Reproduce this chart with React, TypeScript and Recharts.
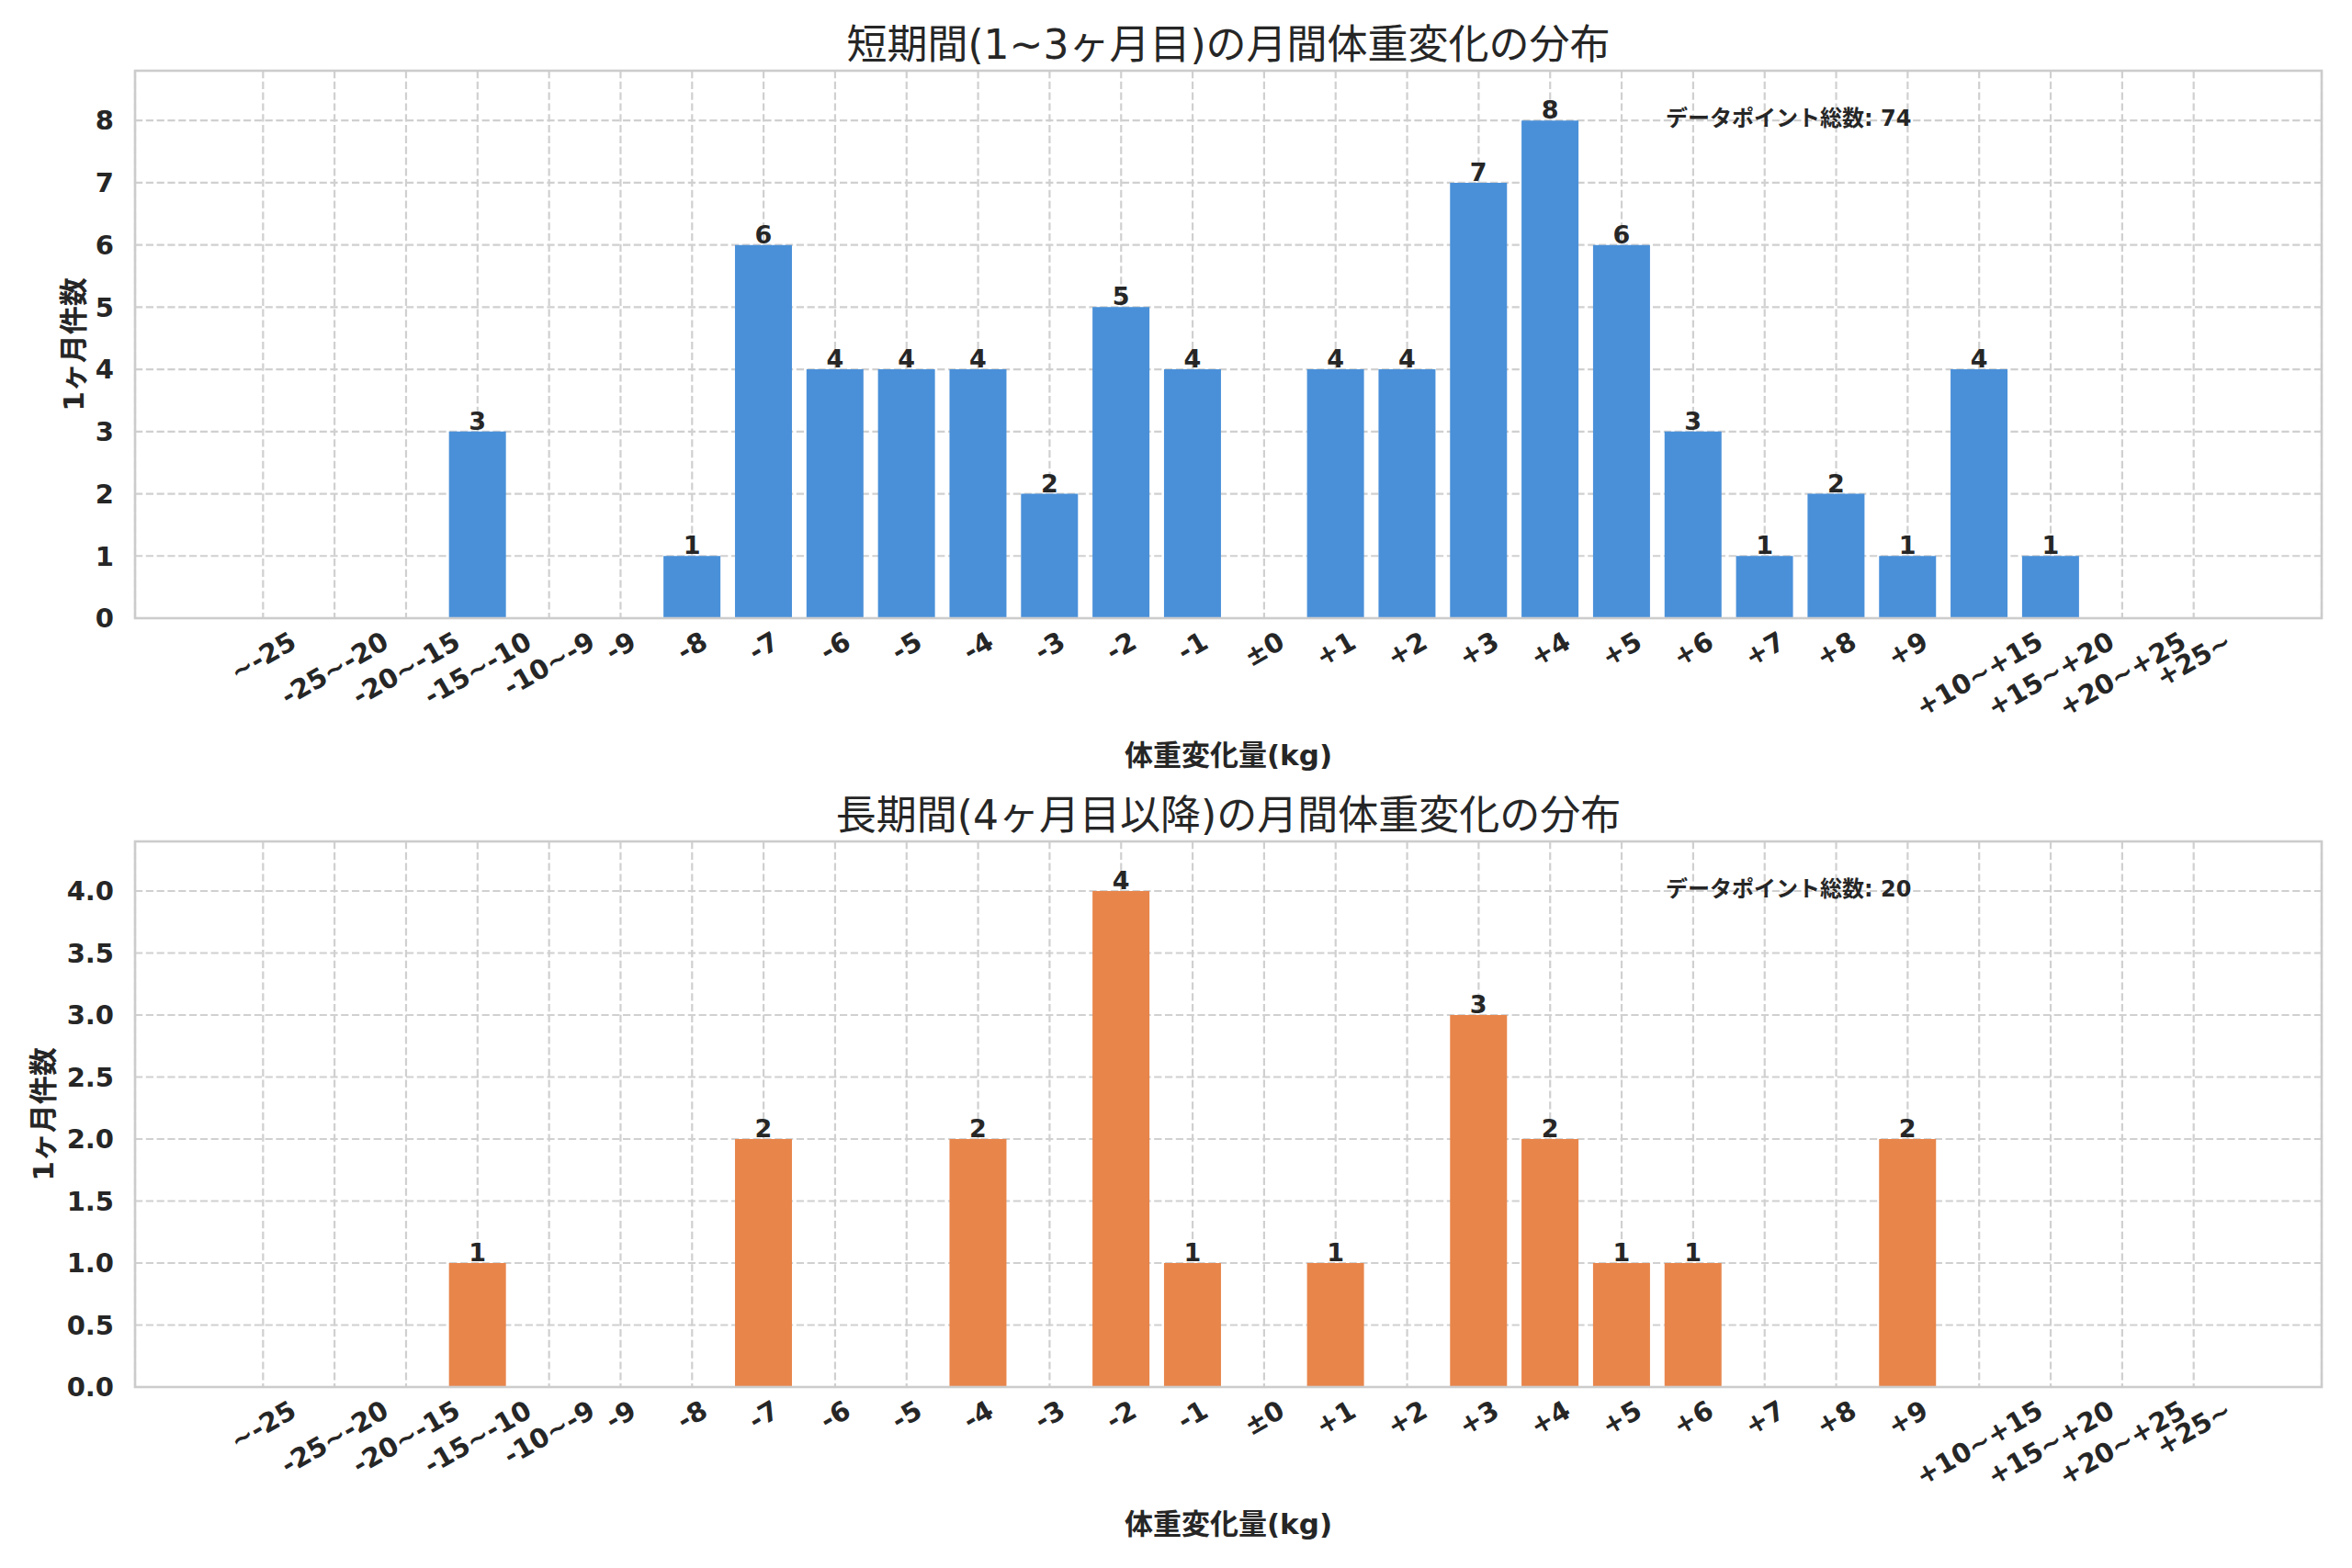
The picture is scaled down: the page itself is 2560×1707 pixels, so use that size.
import React from 'react';
import { BarChart, Bar, XAxis, YAxis, CartesianGrid, LabelList } from 'recharts';

const categories = [
  '~-25', '-25~-20', '-20~-15', '-15~-10', '-10~-9', '-9', '-8', '-7', '-6', '-5', '-4', '-3', '-2', '-1',
  '±0', '+1', '+2', '+3', '+4', '+5', '+6', '+7', '+8', '+9', '+10~+15', '+15~+20', '+20~+25', '+25~',
];
const shortTermCounts = [0, 0, 0, 3, 0, 0, 1, 6, 4, 4, 4, 2, 5, 4, 0, 4, 4, 7, 8, 6, 3, 1, 2, 1, 4, 1, 0, 0];
const longTermCounts = [0, 0, 0, 1, 0, 0, 0, 2, 0, 0, 2, 0, 4, 1, 0, 1, 0, 3, 2, 1, 1, 0, 0, 2, 0, 0, 0, 0];
const topTicks = [0, 1, 2, 3, 4, 5, 6, 7, 8];
const bottomTicks = [0, 0.5, 1, 1.5, 2, 2.5, 3, 3.5, 4];

const topTitle = '短期間(1~3ヶ月目)の月間体重変化の分布';
const bottomTitle = '長期間(4ヶ月目以降)の月間体重変化の分布';
const yLabelText = '1ヶ月件数';
const xLabelText = '体重変化量(kg)';
const totalLabel = 'データポイント総数';

const FONT = "'DejaVu Sans', 'Noto Sans CJK JP', sans-serif";
const TEXT = '#262626';

const charW: Record<string, number> = { '-': 0.415, '~': 0.838, '+': 0.838, '±': 0.838 };
const textWidth = (s: string, f: number) => [...s].reduce((a, c) => a + (charW[c] ?? 0.696) * f, 0);

const XTick = (props: any) => {
  const { x, y, payload } = props;
  const label = String(payload.value);
  const f = 29;
  const w = textWidth(label, f);
  const h = f * 1.164;
  const H = w * 0.5 + h * 0.866;
  const cx = x;
  const cy = y + 8 + H / 2;
  return (
    <text
      x={cx}
      y={cy}
      textAnchor="middle"
      dominantBaseline="central"
      transform={`rotate(-30 ${cx} ${cy})`}
      fontSize={f}
      fontWeight="bold"
      fill={TEXT}
      fontFamily={FONT}
    >
      {label}
    </text>
  );
};

const renderBarLabel = (props: any) => {
  const { x, y, width, value } = props;
  if (!value) return null;
  return (
    <text x={x + width / 2} y={y - 2} textAnchor="middle" fontSize={27} fontWeight="bold" fill={TEXT} fontFamily={FONT}>
      {value}
    </text>
  );
};

type PanelProps = {
  top: number;
  height: number;
  plotTop: number;
  plotHeight: number;
  counts: number[];
  color: string;
  ticks: number[];
  domain: [number, number];
  fmt: (v: number) => string;
  title: string;
  yLabelX: number;
};

const PLOT_LEFT = 147;
const PLOT_RIGHT = 2527;

function Panel({ top, height, plotTop, plotHeight, counts, color, ticks, domain, fmt, title, yLabelX }: PanelProps) {
  const plotW = PLOT_RIGHT - PLOT_LEFT;
  const xAxisH = height - plotTop - plotHeight;
  const data = categories.map((cat, i) => ({ cat, v: counts[i] }));
  const total = counts.reduce((a, b) => a + b, 0);
  const cx = PLOT_LEFT + plotW / 2;
  const plotBottom = plotTop + plotHeight;
  return (
    <div style={{ position: 'absolute', left: 0, top, width: 2560, height }}>
      <BarChart
        width={2560}
        height={height}
        data={data}
        margin={{ top: plotTop, right: 2560 - PLOT_RIGHT, left: 0, bottom: 0 }}
        barCategoryGap="10%"
      >
        <CartesianGrid stroke="#d0d0d0" strokeDasharray="8.2 3.6" strokeWidth={2.2} />
        <XAxis
          dataKey="cat"
          interval={0}
          padding={{ left: 100.4, right: 100.4 }}
          tickLine={false}
          axisLine={false}
          tickSize={0}
          tickMargin={0}
          height={xAxisH}
          tick={(p: any) => <XTick {...p} />}
        />
        <YAxis
          width={PLOT_LEFT}
          domain={domain}
          ticks={ticks}
          tickFormatter={fmt}
          tickLine={false}
          axisLine={false}
          tickSize={0}
          tickMargin={23}
          tick={{ fontSize: 29, fontWeight: 'bold', fill: TEXT, fontFamily: FONT }}
        />
        <Bar dataKey="v" fill={color} isAnimationActive={false}>
          <LabelList dataKey="v" content={renderBarLabel} />
        </Bar>
      </BarChart>
      <svg
        width={2560}
        height={height}
        style={{ position: 'absolute', left: 0, top: 0, pointerEvents: 'none' }}
        fontFamily={FONT}
      >
        <rect x={PLOT_LEFT} y={plotTop} width={plotW} height={plotHeight} fill="none" stroke="#cccccc" strokeWidth={2.6} />
        <text x={cx} y={plotTop - 13} textAnchor="middle" fontSize={44} fill={TEXT}>
          {title}
        </text>
        <text
          x={yLabelX}
          y={plotTop + plotHeight / 2}
          textAnchor="middle"
          dominantBaseline="central"
          transform={`rotate(-90 ${yLabelX} ${plotTop + plotHeight / 2})`}
          fontSize={31}
          fontWeight="bold"
          fill={TEXT}
        >
          {yLabelText}
        </text>
        <text x={cx} y={plotBottom + 160} textAnchor="middle" fontSize={31} fontWeight="bold" fill={TEXT}>
          {xLabelText}
        </text>
        <text x={PLOT_LEFT + plotW * 0.7} y={plotTop + 60} fontSize={24} fontWeight="bold" fill={TEXT}>
          {`${totalLabel}: ${total}`}
        </text>
      </svg>
    </div>
  );
}

export default function App() {
  return (
    <div
      style={{
        position: 'absolute',
        left: 0,
        top: 0,
        width: 2560,
        height: 1707,
        background: '#ffffff',
        fontFamily: FONT,
        overflow: 'hidden',
      }}
    >
      <Panel
        top={0}
        height={853}
        plotTop={77}
        plotHeight={596}
        counts={shortTermCounts}
        color="#4A90D9"
        ticks={topTicks}
        domain={[0, 8.8]}
        fmt={(v) => String(v)}
        title={topTitle}
        yLabelX={80}
      />
      <Panel
        top={853}
        height={854}
        plotTop={63}
        plotHeight={594}
        counts={longTermCounts}
        color="#E8854B"
        ticks={bottomTicks}
        domain={[0, 4.4]}
        fmt={(v) => v.toFixed(1)}
        title={bottomTitle}
        yLabelX={47}
      />
    </div>
  );
}
